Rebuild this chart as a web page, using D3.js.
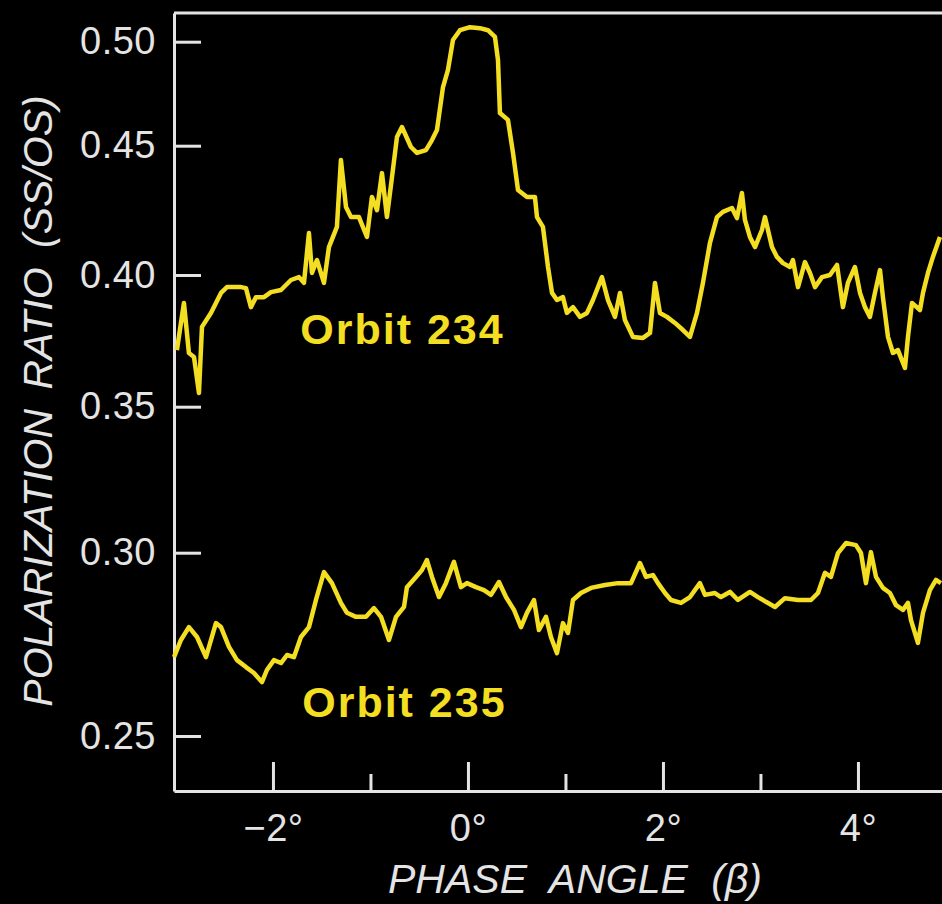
<!DOCTYPE html>
<html>
<head>
<meta charset="utf-8">
<script src="https://cdn.jsdelivr.net/npm/d3@7"></script>
<style>
  body { margin: 0; background: #000; overflow: hidden; }
</style>
</head>
<body>
<div id="polar_chart"></div>
<script>
const orbit234Angle = [-2.985, -2.913, -2.862, -2.810, -2.759, -2.728, -2.636, -2.533, -2.472, -2.328, -2.277, -2.226, -2.174, -2.092, -2.021, -1.918, -1.815, -1.733, -1.682, -1.631, -1.600, -1.549, -1.477, -1.426, -1.344, -1.303, -1.251, -1.200, -1.118, -1.036, -0.985, -0.933, -0.882, -0.831, -0.779, -0.728, -0.677, -0.585, -0.523, -0.431, -0.369, -0.318, -0.256, -0.205, -0.154, -0.082, 0.021, 0.123, 0.205, 0.277, 0.308, 0.328, 0.410, 0.462, 0.513, 0.605, 0.687, 0.708, 0.769, 0.821, 0.862, 0.913, 0.974, 1.015, 1.077, 1.149, 1.221, 1.282, 1.374, 1.436, 1.508, 1.559, 1.610, 1.692, 1.795, 1.867, 1.918, 1.969, 2.041, 2.123, 2.205, 2.277, 2.349, 2.410, 2.482, 2.554, 2.615, 2.708, 2.759, 2.810, 2.841, 2.892, 2.944, 3.015, 3.046, 3.118, 3.169, 3.231, 3.303, 3.333, 3.385, 3.456, 3.508, 3.559, 3.631, 3.713, 3.785, 3.846, 3.897, 3.969, 4.021, 4.072, 4.123, 4.174, 4.226, 4.256, 4.308, 4.359, 4.410, 4.482, 4.513, 4.554, 4.636, 4.667, 4.718, 4.769, 4.841]
const orbit234Ratio = [0.3715, 0.3894, 0.3704, 0.3689, 0.3552, 0.3803, 0.3856, 0.3932, 0.3954, 0.3954, 0.3950, 0.3878, 0.3916, 0.3916, 0.3935, 0.3943, 0.3981, 0.3992, 0.3970, 0.4162, 0.4008, 0.4058, 0.3970, 0.4108, 0.4186, 0.4445, 0.4263, 0.4224, 0.4224, 0.4147, 0.4302, 0.4251, 0.4394, 0.4224, 0.4379, 0.4542, 0.4590, 0.4495, 0.4472, 0.4483, 0.4527, 0.4575, 0.4782, 0.4864, 0.5008, 0.5056, 0.5071, 0.5066, 0.5056, 0.5023, 0.4912, 0.4657, 0.4624, 0.4472, 0.4329, 0.4302, 0.4302, 0.4224, 0.4186, 0.4031, 0.3932, 0.3905, 0.3916, 0.3856, 0.3878, 0.3841, 0.3856, 0.3905, 0.3992, 0.3905, 0.3841, 0.3932, 0.3829, 0.3765, 0.3761, 0.3780, 0.3970, 0.3856, 0.3841, 0.3818, 0.3791, 0.3765, 0.3856, 0.3970, 0.4124, 0.4224, 0.4244, 0.4259, 0.4220, 0.4317, 0.4213, 0.4147, 0.4108, 0.4174, 0.4224, 0.4108, 0.4070, 0.4046, 0.4031, 0.4058, 0.3954, 0.4050, 0.4008, 0.3954, 0.3992, 0.4000, 0.4039, 0.3878, 0.3970, 0.4031, 0.3932, 0.3878, 0.3841, 0.3932, 0.4019, 0.3916, 0.3765, 0.3704, 0.3715, 0.3647, 0.3765, 0.3894, 0.3867, 0.3932, 0.4008, 0.4070, 0.4147]

const orbit235Angle = [-3.015, -2.944, -2.862, -2.779, -2.687, -2.585, -2.533, -2.451, -2.369, -2.277, -2.195, -2.113, -2.062, -1.990, -1.918, -1.856, -1.785, -1.713, -1.631, -1.559, -1.477, -1.395, -1.303, -1.241, -1.149, -1.046, -0.964, -0.892, -0.810, -0.738, -0.656, -0.626, -0.533, -0.472, -0.421, -0.369, -0.297, -0.226, -0.144, -0.072, -0.010, 0.082, 0.164, 0.236, 0.318, 0.390, 0.472, 0.544, 0.605, 0.677, 0.728, 0.800, 0.851, 0.913, 0.974, 1.026, 1.077, 1.159, 1.262, 1.405, 1.538, 1.672, 1.764, 1.826, 1.897, 1.949, 2.021, 2.082, 2.185, 2.277, 2.379, 2.431, 2.533, 2.595, 2.687, 2.769, 2.892, 2.974, 3.056, 3.149, 3.251, 3.385, 3.518, 3.590, 3.662, 3.723, 3.795, 3.877, 3.979, 4.031, 4.082, 4.133, 4.185, 4.256, 4.328, 4.390, 4.462, 4.513, 4.544, 4.615, 4.667, 4.738, 4.800, 4.851]
const orbit235Ratio = [0.2715, 0.2762, 0.2797, 0.2770, 0.2715, 0.2808, 0.2797, 0.2743, 0.2707, 0.2688, 0.2672, 0.2647, 0.2680, 0.2707, 0.2699, 0.2721, 0.2715, 0.2770, 0.2797, 0.2871, 0.2947, 0.2917, 0.2863, 0.2836, 0.2825, 0.2825, 0.2849, 0.2825, 0.2762, 0.2825, 0.2852, 0.2906, 0.2934, 0.2953, 0.2980, 0.2934, 0.2879, 0.2917, 0.2975, 0.2906, 0.2917, 0.2906, 0.2898, 0.2885, 0.2920, 0.2879, 0.2844, 0.2797, 0.2836, 0.2871, 0.2789, 0.2825, 0.2770, 0.2726, 0.2808, 0.2781, 0.2871, 0.2890, 0.2904, 0.2912, 0.2917, 0.2917, 0.2972, 0.2934, 0.2939, 0.2917, 0.2890, 0.2871, 0.2863, 0.2879, 0.2917, 0.2885, 0.2890, 0.2879, 0.2893, 0.2871, 0.2893, 0.2879, 0.2866, 0.2852, 0.2876, 0.2871, 0.2871, 0.2890, 0.2945, 0.2934, 0.2999, 0.3033, 0.3026, 0.2999, 0.2917, 0.3002, 0.2934, 0.2904, 0.2890, 0.2857, 0.2844, 0.2863, 0.2816, 0.2754, 0.2836, 0.2898, 0.2926, 0.2917]

const yTickValues = [0.25, 0.30, 0.35, 0.40, 0.45, 0.50]
const xMajorTicks = [-2, 0, 2, 4]
const xMinorTicks = [-1, 1, 3]
const seriesNames = ["Orbit 234", "Orbit 235"]
const labelAngle = [-1.72, -1.70]
const labelRatio = [0.3738, 0.2552]

// setup the dimensions
const marginPolar = { top: 13, left: 174 }
const widthPolar = 942 - marginPolar.left
const heightPolar = 791 - marginPolar.top

const colorTrace = "#f3de21"
const colorAxis = "#e4e4e4"

var PolarChart = d3.select("#polar_chart")
  .append("svg")
    .attr("width", 942)
    .attr("height", 904)
    .style("display", "block")
    .style("background", "#000")

var plot = PolarChart.append("g")
    .attr("transform", "translate(" + marginPolar.left + "," + marginPolar.top + ")")

// scales (the y axis of the figure is not evenly spaced, so it is piecewise)
const x = d3.scaleLinear()
    .domain([-3.015, 4.862])
    .range([0, widthPolar])

const y = d3.scaleLinear()
    .domain([0.235, 0.25, 0.30, 0.35, 0.40, 0.45, 0.50, 0.514])
    .range([heightPolar, 723, 539.7, 393.7, 262, 132.7, 28.7, 0])

// top border of the frame
plot.append("line")
    .attr("x1", 0).attr("x2", widthPolar + 10)
    .attr("y1", 0).attr("y2", 0)
    .attr("stroke", colorAxis)
    .attr("stroke-width", 3)

// y axis
plot.append("g")
    .call(d3.axisLeft(y)
        .tickValues(yTickValues)
        .tickSizeInner(-27)
        .tickSizeOuter(0)
        .tickPadding(18)
        .tickFormat(d3.format(".2f")))

// x axis, major and minor ticks
plot.append("g")
    .attr("transform", `translate(0,${heightPolar})`)
    .call(d3.axisBottom(x)
        .tickValues(xMajorTicks)
        .tickSizeInner(-29)
        .tickSizeOuter(0)
        .tickPadding(23)
        .tickFormat(d => (d < 0 ? "\u2212" + Math.abs(d) : d) + "\u00b0"))

plot.append("g")
    .attr("transform", `translate(0,${heightPolar})`)
    .call(d3.axisBottom(x)
        .tickValues(xMinorTicks)
        .tickSizeInner(-17)
        .tickSizeOuter(0)
        .tickFormat(""))
    .select(".domain").remove()

plot.selectAll(".domain, .tick line")
    .attr("stroke", colorAxis)
    .attr("stroke-width", 3)

plot.selectAll(".tick text")
    .attr("fill", colorAxis)
    .style("font-family", "'Liberation Sans', Arial, sans-serif")
    .style("font-size", "38px")
    .style("letter-spacing", "0.5px")

// axis titles
PolarChart.append("text")
    .attr("x", 575)
    .attr("y", 893)
    .attr("text-anchor", "middle")
    .attr("fill", colorAxis)
    .style("font-family", "'Liberation Sans', Arial, sans-serif")
    .style("font-style", "italic")
    .style("font-size", "41px")
    .style("word-spacing", "12px")
    .text("PHASE ANGLE (\u03b2)")

PolarChart.append("text")
    .attr("transform", "translate(52,401) rotate(-90)")
    .attr("text-anchor", "middle")
    .attr("fill", colorAxis)
    .style("font-family", "'Liberation Sans', Arial, sans-serif")
    .style("font-style", "italic")
    .style("font-size", "41px")
    .style("word-spacing", "8px")
    .text("POLARIZATION RATIO (SS/OS)")

// the two traces
const traces = [
    orbit234Angle.map((a, i) => ({ angle: a, ratio: orbit234Ratio[i] })),
    orbit235Angle.map((a, i) => ({ angle: a, ratio: orbit235Ratio[i] }))
]

const line = d3.line()
    .x(d => x(d.angle))
    .y(d => y(d.ratio))

plot.selectAll(".trace")
    .data(traces)
    .enter()
    .append("path")
    .attr("class", "trace")
    .attr("fill", "none")
    .attr("stroke", colorTrace)
    .attr("stroke-width", 4.5)
    .attr("stroke-linejoin", "round")
    .attr("d", line)

// orbit labels
plot.selectAll(".orbit-label")
    .data(seriesNames)
    .enter()
    .append("text")
    .attr("class", "orbit-label")
    .attr("x", (d, i) => x(labelAngle[i]))
    .attr("y", (d, i) => y(labelRatio[i]))
    .attr("fill", colorTrace)
    .style("font-family", "'Liberation Sans', Arial, sans-serif")
    .style("font-weight", "bold")
    .style("font-size", "43px")
    .style("letter-spacing", "2px")
    .text(d => d)
</script>
</body>
</html>
